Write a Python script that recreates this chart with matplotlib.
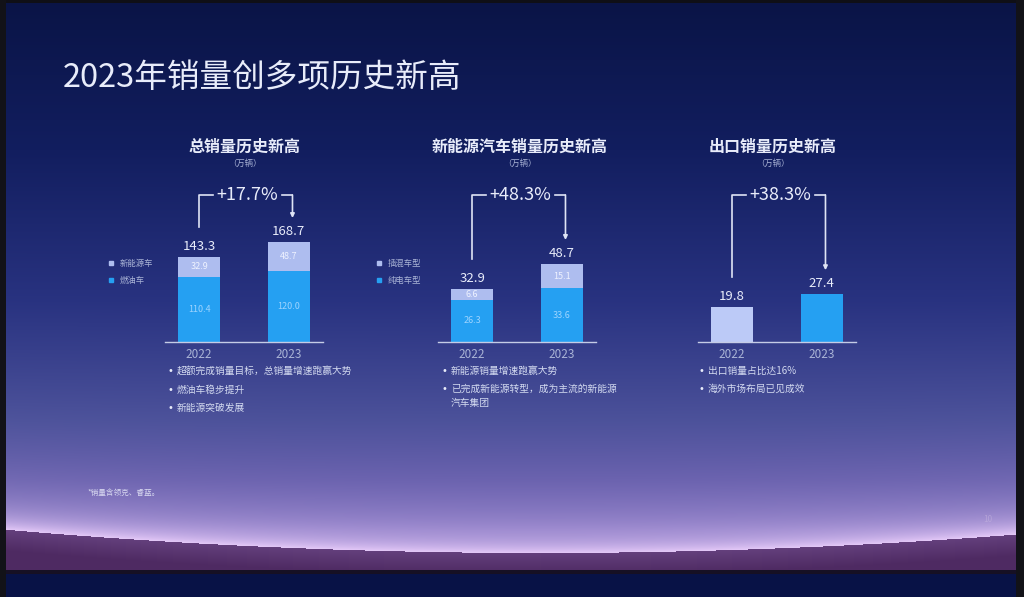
import numpy as np
import matplotlib
matplotlib.use("Agg")
import matplotlib.pyplot as plt
from matplotlib.lines import Line2D

plt.rcParams['font.family'] = ['Noto Sans CJK SC', 'DejaVu Sans']

# ---- data ----
years = ['2022', '2023']
title = '2023年销量创多项历史新高'

total_ice = [110.4, 120.0]       # 燃油车
total_nev = [32.9, 48.7]         # 新能源车
total_sum = [143.3, 168.7]

nev_bev = [26.3, 33.6]           # 纯电车型
nev_phev = [6.6, 15.1]           # 插混车型
nev_sum = [32.9, 48.7]

export = [19.8, 27.4]

growth = ['+17.7%', '+48.3%', '+38.3%']
panel_titles = ['总销量历史新高', '新能源汽车销量历史新高', '出口销量历史新高']
unit = '（万辆）'
legend1 = ['新能源车', '燃油车']
legend2 = ['插混车型', '纯电车型']
bullets1 = ['超额完成销量目标，总销量增速跑赢大势', '燃油车稳步提升', '新能源突破发展']
bullets2 = ['新能源销量增速跑赢大势', '已完成新能源转型，成为主流的新能源\n汽车集团']
bullets3 = ['出口销量占比达16%', '海外市场布局已见成效']
footnote = '*销量含领克、睿蓝。'

W, H = 1024, 597
BLUE = '#25a0f2'
LIGHT = '#aebdef'
LIGHT3 = '#bccaf7'
TXT = '#e8ecfa'
SUB = '#aab4d6'


def fxy(x, y):
  return x / W, 1 - y / H


def background():
  yy, xx = np.mgrid[0:H, 0:W].astype(float)
  stops_y = [0, 150, 300, 420, 480, 530]
  stops_c = np.array([(10, 20, 70), (18, 30, 95), (40, 50, 128),
                      (72, 78, 152), (95, 88, 168), (120, 106, 186)], float)
  img = np.zeros((H, W, 3))
  for k in range(3):
    img[..., k] = np.interp(yy, stops_y, stops_c[:, k])
  yh = 552 - 8.15e-5 * (xx - 540) ** 2
  d = np.clip(yh - yy, 0, None)
  glow = (0.55 * np.exp(-d / 12.0) + 0.45 * np.exp(-d / 55.0))[..., None]
  img = img + glow * np.array([105, 92, 60])
  t = np.clip((yy - yh) / 22.0, 0, 1)[..., None]
  dark = np.array([100, 64, 125]) * (1 - t) + np.array([78, 42, 98]) * t
  below = (yy > yh + 0.5)[..., None]
  img = np.where(below, dark, img)
  img[570:574] = (22, 16, 36)
  img[574:] = (8, 18, 70)
  img[:3] = (15, 15, 22)
  img[:, :6] = (18, 18, 24)
  img[:, 1016:] = (18, 18, 24)
  return np.clip(img, 0, 255) / 255.0


def bracket(ax, scale, top0, top1, label):
  yt = (342 - 195) / scale
  yl = top0 + 30 / scale
  yr = top1 + 24 / scale
  lc = '#dfe4f5'
  ax.plot([0, 0, 0.16], [yl, yt, yt], color=lc, lw=1.2, clip_on=False)
  ax.plot([0.92, 1.04], [yt, yt], color=lc, lw=1.2, clip_on=False)
  ax.annotate('', xy=(1.04, yr), xytext=(1.04, yt),
              arrowprops=dict(arrowstyle='-|>', color=lc, lw=1.2,
                              mutation_scale=6, shrinkA=0, shrinkB=0))
  ax.text(0.54, yt, label, ha='center', va='center', fontsize=13, color=TXT)


def setup(ax, ytop):
  ax.set_xlim(-0.38, 1.38)
  ax.set_ylim(0, ytop)
  ax.patch.set_alpha(0)
  for s in ['top', 'left', 'right']:
    ax.spines[s].set_visible(False)
  ax.spines['bottom'].set_color('#c5cce6')
  ax.spines['bottom'].set_linewidth(1.0)
  ax.set_yticks([])
  ax.set_xticks([0, 1])
  ax.set_xticklabels(years)
  ax.tick_params(length=0, pad=4, labelsize=8.5, labelcolor=SUB)


def main():
  fig = plt.figure(figsize=(W / 100, H / 100), dpi=100)
  bg = fig.add_axes([0, 0, 1, 1], zorder=-1)
  bg.imshow(background(), aspect='auto', extent=(0, W, H, 0))
  bg.axis('off')

  fig.text(*fxy(63, 78), title, fontsize=23.5, color=TXT, va='center', ha='left')

  lefts = [165, 438, 698]
  ytops = [265.0, 98.0, 90.0]
  centers = [245, 520, 773]
  axes = []
  for i in range(3):
    ax = fig.add_axes([lefts[i] / W, 1 - 342 / H, 158 / W, 157 / H])
    setup(ax, ytops[i])
    axes.append(ax)
    fig.text(*fxy(centers[i], 147), panel_titles[i], fontsize=11.5,
             color=TXT, ha='center', va='center', fontweight='bold')
    fig.text(*fxy(centers[i], 163), unit, fontsize=6, color=SUB,
             ha='center', va='center')

  x = np.arange(2)
  w = 0.47
  # stacked panels
  stacks = [(axes[0], total_ice, total_nev, total_sum),
            (axes[1], nev_bev, nev_phev, nev_sum)]
  for ax, low, high, tot in stacks:
    ax.bar(x, low, w, color=BLUE)
    ax.bar(x, high, w, bottom=low, color=LIGHT)
    for i in range(2):
      ax.text(x[i], low[i] / 2, f'{low[i]:.1f}', ha='center', va='center',
              fontsize=6.5, color='#9dd4ff')
      ax.text(x[i], low[i] + high[i] / 2, f'{high[i]:.1f}', ha='center',
              va='center', fontsize=6.5, color='#eef2ff')
      ax.annotate(f'{tot[i]:.1f}', (x[i], tot[i]), xytext=(0, 3),
                  textcoords='offset points', ha='center', va='bottom',
                  fontsize=9.5, color=TXT)

  ax = axes[2]
  ax.bar(x, export, w, color=[LIGHT3, BLUE])
  for i in range(2):
    ax.annotate(f'{export[i]:.1f}', (x[i], export[i]), xytext=(0, 3),
                textcoords='offset points', ha='center', va='bottom',
                fontsize=9.5, color=TXT)

  tops = [total_sum, nev_sum, export]
  for i in range(3):
    scale = 157 / ytops[i]
    bracket(axes[i], scale, tops[i][0], tops[i][1], growth[i])

  # legends
  for lx, labels in [(104, legend1), (372, legend2)]:
    handles = [Line2D([], [], marker='s', ls='', color=LIGHT, markersize=3),
               Line2D([], [], marker='s', ls='', color=BLUE, markersize=3)]
    fig.legend(handles, labels, loc='upper left',
               bbox_to_anchor=fxy(lx, 255), frameon=False, fontsize=6,
               labelcolor=SUB, handlelength=0.6, handletextpad=0.8,
               labelspacing=0.9, borderpad=0)

  # bullets
  blists = [(170, [371, 390, 408], bullets1),
            (444, [371, 389], bullets2),
            (701, [371, 389], bullets3)]
  for bx, ys, items in blists:
    for yy, s in zip(ys, items):
      fig.text(*fxy(bx, yy), '•', fontsize=7, color=TXT, ha='center', va='center',
               family='DejaVu Sans')
      fig.text(*fxy(bx + 7, yy - 5), s, fontsize=7, color='#d3daf0',
               ha='left', va='top', linespacing=1.5)

  fig.text(*fxy(88, 493), footnote, fontsize=5.5, color='#d8d8f0',
           ha='left', va='center')
  fig.text(*fxy(988, 520), '10', fontsize=6, color='#c8b8e0', alpha=0.5,
           ha='center', va='center')

  fig.savefig('out.png', dpi=100)


if __name__ == "__main__":
  main()
